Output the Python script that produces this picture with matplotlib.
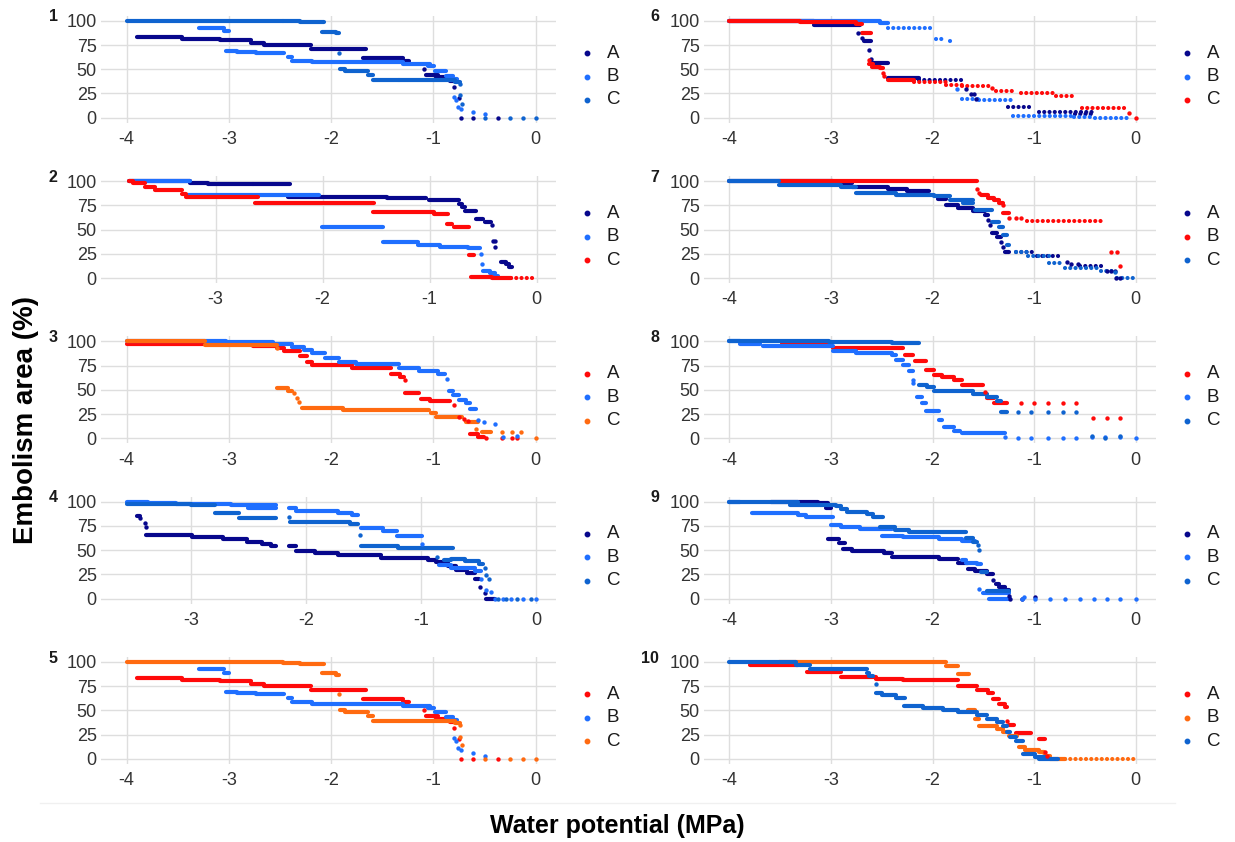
import matplotlib
matplotlib.use("Agg")
import matplotlib.pyplot as plt
from matplotlib.lines import Line2D

plt.rcParams['font.family'] = ['Liberation Sans', 'DejaVu Sans']
plt.rcParams['axes.unicode_minus'] = False

# colours
NAVY = "#07078c"
BLUE = "#1f6fff"
MBLUE = "#0f63cf"
RED = "#ff0a0a"
ORANGE = "#ff6a10"

# ---- data: (x_start, x_end, level) runs of dense points, sparse runs, single points ----
# panel 1 (same curves are shown again in panel 5)
p1_A_seg = [(-3.90, -3.46, 83), (-3.46, -3.09, 81), (-3.09, -2.78, 80), (-2.78, -2.66, 77.5),
            (-2.66, -2.20, 75), (-2.20, -1.66, 71), (-1.69, -1.30, 61.5), (-1.30, -1.24, 58.5),
            (-1.07, -0.95, 44.5), (-0.97, -0.84, 41.5), (-0.84, -0.80, 38)]
p1_A_pts = [(-1.09, 50), (-0.80, 31.5), (-0.75, 20.5), (-0.73, 0), (-0.61, 0), (-0.37, 0)]
p1_B_seg = [(-3.29, -3.05, 92.5), (-3.05, -3.0, 89), (-3.03, -2.92, 69), (-2.92, -2.73, 67.5),
            (-2.73, -2.46, 66.5), (-2.42, -2.38, 62.5), (-2.38, -2.19, 59), (-2.19, -1.30, 57),
            (-1.30, -1.03, 55), (-1.05, -0.99, 53), (-0.98, -0.88, 48.5), (-0.88, -0.81, 43.5),
            (-0.81, -0.77, 40)]
p1_B_pts = [(-0.80, 21.5), (-0.78, 18), (-0.76, 11.5), (-0.73, 9), (-0.61, 6), (-0.49, 3.5)]
p1_C_seg = [(-4.0, -2.47, 100), (-2.47, -2.30, 99.3), (-2.30, -2.07, 98.3), (-2.09, -1.95, 88.5),
            (-1.95, -1.92, 87), (-1.91, -1.86, 50.7), (-1.86, -1.64, 48.6), (-1.64, -1.59, 44),
            (-1.59, -1.34, 39.4), (-1.34, -0.79, 38.7), (-0.79, -0.74, 37)]
p1_C_pts = [(-1.92, 67), (-0.74, 35), (-0.74, 23), (-0.72, 14), (-0.49, 0), (-0.25, 0),
            (-0.12, 0), (0, 0)]

# panel 2
p2_A_seg = [(-3.81, -3.24, 100), (-3.24, -3.07, 98), (-3.07, -2.65, 97), (-2.65, -2.30, 96.5),
            (-2.32, -1.40, 83.5), (-1.40, -1.03, 82.5), (-1.01, -0.73, 80), (-0.73, -0.70, 76),
            (-0.70, -0.67, 73), (-0.67, -0.57, 69.5), (-0.57, -0.50, 60.5), (-0.48, -0.43, 58),
            (-0.33, -0.29, 17), (-0.29, -0.26, 14), (-0.26, -0.23, 11)]
p2_A_pts = [(-0.42, 54.5), (-0.41, 38.5), (-0.39, 38), (-0.39, 32)]
p2_B_seg = [(-3.77, -3.24, 100), (-3.26, -2.03, 86), (-2.01, -1.44, 53), (-1.44, -1.11, 37),
            (-1.11, -0.90, 34), (-0.90, -0.64, 32.5), (-0.64, -0.53, 30.5), (-0.50, -0.44, 7.5),
            (-0.44, -0.39, 5), (-0.39, -0.36, 2.5)]
p2_B_pts = [(-0.52, 25), (-0.51, 14)]
p2_C_seg = [(-3.81, -3.77, 100), (-3.77, -3.66, 98.3), (-3.66, -3.57, 94), (-3.57, -3.31, 90.5),
            (-3.31, -3.28, 87), (-3.28, -2.60, 84), (-2.63, -1.52, 77.5), (-1.53, -0.96, 68.5),
            (-0.96, -0.83, 66), (-0.84, -0.79, 55.5), (-0.77, -0.63, 52.5), (-0.63, -0.59, 24),
            (-0.61, -0.42, 1.4), (-0.42, -0.24, 0)]
p2_C_dot = [(-0.24, 0, 0)]

# panel 3
p3_A_seg = [(-4.0, -2.76, 97), (-2.76, -2.53, 95.5), (-2.53, -2.46, 93), (-2.46, -2.30, 89.7),
            (-2.30, -2.24, 84.5), (-2.24, -2.19, 78.6), (-2.19, -1.80, 75.2), (-1.80, -1.41, 73),
            (-1.41, -1.33, 66.2), (-1.33, -1.29, 62.8), (-1.28, -1.14, 47.2), (-1.12, -1.03, 40.7),
            (-1.03, -0.84, 38.5), (-0.64, -0.56, 4), (-0.56, -0.50, 1.7)]
p3_A_pts = [(-1.28, 60.3), (-0.80, 34.5), (-0.75, 22.4), (-0.70, 20), (-0.66, 18), (-0.48, 0),
            (-0.33, 0), (-0.23, 0), (-0.18, 0)]
p3_B_seg = [(-4.0, -3.03, 100), (-3.03, -2.57, 99), (-2.57, -2.38, 97.2), (-2.38, -2.26, 94),
            (-2.26, -2.19, 91.4), (-2.19, -2.06, 88), (-2.06, -1.92, 83), (-1.92, -1.76, 78.6),
            (-1.76, -1.34, 76.5), (-1.34, -1.14, 72.4), (-1.14, -0.95, 69.7), (-0.95, -0.89, 66.2),
            (-0.85, -0.81, 48.3), (-0.81, -0.75, 44.8), (-0.75, -0.68, 39.7), (-0.68, -0.64, 36.2),
            (-0.64, -0.58, 30.5)]
p3_B_pts = [(-0.87, 61), (-0.56, 19), (-0.50, 16.6), (-0.40, 14.5), (-0.32, 1), (-0.18, 2)]
p3_C_seg = [(-4.0, -3.23, 100), (-3.23, -2.53, 96.5), (-2.53, -2.42, 51.7), (-2.42, -2.38, 49),
            (-2.28, -1.88, 31), (-1.88, -1.04, 29.3), (-1.02, -0.97, 25.9), (-0.97, -0.72, 21.7),
            (-0.68, -0.56, 16.6), (-0.52, -0.44, 6.9)]
p3_C_pts = [(-2.53, 92.8), (-2.36, 46.5), (-2.33, 42), (-2.31, 37.9), (-0.58, 9.7), (-0.33, 6.9),
            (-0.23, 6.9), (-0.14, 6.9), (0, 0)]

# panel 4
p4_A_seg = [(-3.47, -3.44, 85), (-3.39, -2.99, 66), (-2.99, -2.72, 64), (-2.72, -2.51, 61.6),
            (-2.51, -2.38, 58.6), (-2.38, -2.30, 56.5), (-2.30, -2.26, 54), (-2.15, -2.09, 54),
            (-2.09, -1.92, 49), (-1.92, -1.72, 46.6), (-1.72, -1.35, 44.5), (-1.35, -0.94, 42),
            (-0.94, -0.87, 39.5), (-0.87, -0.77, 37.7), (-0.77, -0.70, 33.6), (-0.70, -0.60, 29.5),
            (-0.60, -0.53, 26.7), (-0.53, -0.50, 20), (-0.44, -0.36, 0)]
p4_A_pts = [(-3.44, 83), (-3.40, 78), (-3.39, 73.6), (-0.49, 12.3), (-0.45, 6)]
p4_B_seg = [(-3.55, -3.37, 100), (-3.37, -3.13, 98.6), (-3.13, -2.65, 97.6), (-2.65, -2.26, 96.2),
            (-2.50, -2.26, 93), (-2.15, -2.09, 93), (-2.09, -1.72, 90), (-1.72, -1.60, 88),
            (-1.60, -1.55, 86.3), (-1.52, -1.33, 73), (-1.33, -1.21, 69.5), (-1.21, -0.99, 65),
            (-0.85, -0.74, 35), (-0.74, -0.53, 31.8), (-0.53, -0.48, 28.4)]
p4_B_pts = [(-0.99, 56.5), (-0.48, 20.5), (-0.44, 9), (-0.39, 7), (-0.36, 0), (-0.29, 0),
            (-0.22, 0), (-0.12, 0), (0, 0)]
p4_C_seg = [(-3.55, -3.0, 98), (-3.0, -2.79, 96.6), (-2.79, -2.58, 88.4), (-2.58, -2.26, 83.6),
            (-2.14, -1.62, 79.5), (-1.62, -1.55, 77), (-1.52, -1.20, 54), (-1.20, -0.72, 52.5),
            (-0.80, -0.74, 40), (-0.74, -0.62, 41), (-0.62, -0.50, 39), (-0.50, -0.46, 36)]
p4_C_pts = [(-2.15, 84), (-1.53, 66), (-0.86, 43), (-0.45, 32), (-0.44, 24), (-0.41, 20.5),
            (-0.33, 0), (-0.26, 0), (-0.17, 0), (-0.05, 0)]

# panel 6
p6_A_seg = [(-4.0, -3.17, 100), (-3.17, -2.71, 95.5), (-2.67, -2.61, 79), (-2.60, -2.44, 56),
            (-2.44, -2.13, 40.5)]
p6_A_dot = [(-2.13, -1.71, 38.8), (-1.26, -1.01, 11.3), (-0.95, -0.41, 5.5), (-0.60, -0.41, 3.8)]
p6_A_pts = [(-2.73, 87), (-2.69, 82), (-2.63, 70), (-2.61, 61), (-1.67, 29.6), (-1.62, 24),
            (-1.59, 24), (-1.57, 19)]
p6_B_seg = [(-4.0, -2.52, 100), (-2.52, -2.44, 98)]
p6_B_dot = [(-2.44, -1.99, 93), (-1.97, -1.89, 81), (-1.83, -1.79, 79.4), (-1.71, -1.54, 19.2),
            (-1.54, -1.22, 18.2), (-1.21, -0.61, 2), (-0.61, -0.40, 1), (-0.40, -0.09, 0)]
p6_B_pts = [(-1.76, 29.2)]
p6_C_seg = [(-4.0, -3.3, 100), (-3.3, -2.75, 98.5), (-2.75, -2.69, 96.6), (-2.69, -2.61, 87),
            (-2.63, -2.59, 55), (-2.60, -2.52, 52.6), (-2.52, -2.49, 51), (-2.44, -2.18, 38.8)]
p6_C_dot = [(-2.18, -1.87, 37.1), (-1.87, -1.71, 33.7), (-1.71, -1.44, 32.6), (-1.38, -1.17, 27.8),
            (-1.13, -0.80, 25.1), (-0.78, -0.59, 22.7), (-0.53, -0.11, 10.3)]
p6_C_pts = [(-2.63, 60), (-2.49, 46.4), (-2.48, 43.3), (-1.41, 31), (-0.07, 5.2), (0, 0)]

# panel 7
p7_A_seg = [(-4.0, -2.98, 100), (-2.98, -2.79, 98.3), (-2.79, -2.44, 94), (-2.44, -2.25, 91.5),
            (-2.25, -2.03, 89.4), (-1.95, -1.87, 81), (-1.87, -1.75, 75), (-1.75, -1.60, 72.7),
            (-1.60, -1.48, 69.3), (-1.48, -1.45, 65), (-1.41, -1.37, 46), (-1.37, -1.33, 42.7),
            (-1.29, -1.25, 27.3)]
p7_A_dot = [(-1.18, -1.01, 26.6), (-0.97, -0.72, 22.9), (-0.55, -0.32, 12)]
p7_A_pts = [(-1.45, 59.7), (-1.43, 54.6), (-1.33, 37.5), (-1.31, 31.7), (-0.68, 17), (-0.64, 14.3),
            (-0.57, 14.3), (-0.28, 6.8), (-0.24, 6.8), (-0.20, 6.8), (-0.19, 0), (-0.15, 0)]
p7_B_seg = [(-3.51, -1.56, 100), (-1.52, -1.45, 85.3), (-1.45, -1.39, 82.9), (-1.39, -1.35, 80.2),
            (-1.35, -1.31, 77.5), (-1.31, -1.25, 66.6)]
p7_B_dot = [(-1.07, -0.30, 58.7)]
p7_B_pts = [(-1.56, 92.2), (-1.54, 88), (-1.31, 75), (-1.25, 61.4), (-1.18, 62), (-1.13, 62),
            (-0.24, 27.3), (-0.18, 27.3), (-0.15, 12)]
p7_C_seg = [(-4.0, -3.51, 100), (-3.51, -2.90, 95.6), (-2.90, -2.75, 94), (-2.75, -2.36, 87.7),
            (-2.36, -1.99, 86), (-1.99, -1.83, 84.3), (-1.83, -1.60, 80.9), (-1.70, -1.60, 77),
            (-1.58, -1.41, 70.6), (-1.41, -1.35, 57.3), (-1.35, -1.31, 52.9), (-1.31, -1.27, 44.4),
            (-1.27, -1.25, 34.1)]
p7_C_dot = [(-1.18, -1.06, 26.6), (-1.06, -0.84, 23.2), (-0.85, -0.72, 15.4), (-0.70, -0.35, 10.2),
            (-0.34, -0.20, 7.5), (-0.18, 0, 0)]
p7_C_pts = [(-0.20, 6.1)]

# panel 8
p8_A_seg = [(-3.48, -3.02, 97.6), (-2.98, -2.29, 93), (-2.27, -2.19, 86.2), (-2.17, -2.06, 80),
            (-2.06, -1.99, 70.7), (-1.99, -1.91, 65.5), (-1.91, -1.79, 63), (-1.79, -1.71, 60.3),
            (-1.71, -1.50, 54.5), (-1.46, -1.39, 41.4), (-1.39, -1.27, 36.9)]
p8_A_pts = [(-1.48, 48), (-1.13, 36.9), (-1.0, 36.9), (-0.86, 36.9), (-0.72, 36.9), (-0.59, 36.9),
            (-0.42, 20.7), (-0.28, 20.7), (-0.15, 20.7)]
p8_B_seg = [(-4.0, -3.90, 100), (-3.90, -3.70, 97.6), (-3.67, -2.98, 94.8), (-2.98, -2.75, 89.7),
            (-2.75, -2.40, 88), (-2.40, -2.36, 85.5), (-2.36, -2.29, 81), (-2.29, -2.23, 75.9),
            (-2.23, -2.19, 69), (-2.15, -2.10, 43), (-2.10, -2.06, 36.2), (-2.06, -1.94, 28.3),
            (-1.94, -1.91, 19), (-1.89, -1.79, 12), (-1.79, -1.73, 7.6), (-1.71, -1.29, 5.2)]
p8_B_pts = [(-2.19, 60), (-2.19, 56.9), (-1.29, 1.7), (-1.16, 0), (-1.03, 0), (-0.86, 0), (-0.72, 0),
            (-0.59, 0), (-0.43, 1.7), (-0.30, 1.7), (-0.15, 1.7), (0, 0)]
p8_C_seg = [(-4.0, -3.02, 100), (-3.02, -2.40, 99.3), (-2.40, -2.13, 98), (-2.13, -2.05, 55.2),
            (-2.05, -1.99, 53), (-1.99, -1.60, 49), (-1.60, -1.46, 45.9), (-1.46, -1.37, 43.1),
            (-1.37, -1.33, 38.6), (-1.33, -1.27, 26.9)]
p8_C_pts = [(-1.16, 26.9), (-1.03, 26.9), (-0.86, 26.9), (-0.72, 26.9), (-0.59, 26.9), (-0.43, 2.8),
            (-0.30, 0), (-0.15, 2.8)]

# panel 9
p9_A_seg = [(-3.59, -3.13, 100), (-3.13, -3.03, 98.6), (-3.05, -3.0, 93.5), (-3.03, -2.92, 61.6),
            (-2.92, -2.86, 57.5), (-2.88, -2.79, 51.4), (-2.79, -2.48, 49), (-2.48, -2.40, 46.6),
            (-2.40, -1.94, 42.8), (-1.94, -1.75, 40.4), (-1.75, -1.65, 37), (-1.65, -1.58, 30.8),
            (-1.58, -1.46, 28.4), (-1.46, -1.40, 25), (-1.38, -1.35, 15.4), (-1.35, -1.29, 12.3),
            (-1.29, -1.25, 8.6)]
p9_A_pts = [(-1.40, 19.2), (-1.25, 2.7), (-1.24, 0), (-1.12, 0), (-0.99, 2)]
p9_B_seg = [(-4.0, -3.90, 100), (-3.78, -3.32, 88.4), (-3.32, -3.25, 86.6), (-3.25, -2.98, 84.2),
            (-3.0, -2.90, 76.4), (-2.90, -2.71, 73.6), (-2.71, -2.40, 71.9), (-2.50, -2.29, 65),
            (-2.29, -1.94, 63.7), (-1.94, -1.71, 61.6), (-1.71, -1.58, 59.2), (-1.71, -1.67, 39.4),
            (-1.67, -1.56, 37), (-1.56, -1.52, 35.3), (-1.50, -1.44, 6.2), (-1.44, -1.25, 5.5),
            (-1.44, -1.24, 0)]
p9_B_pts = [(-1.54, 9.6), (-1.10, 2), (-1.12, 0), (-0.99, 0), (-0.84, 0), (-0.70, 0), (-0.55, 0),
            (-0.41, 0), (-0.28, 0), (-0.15, 0), (0, 0)]
p9_C_seg = [(-4.0, -3.32, 100), (-3.40, -2.95, 97), (-2.95, -2.90, 95.2), (-2.90, -2.84, 92.5),
            (-2.84, -2.65, 89.4), (-2.65, -2.59, 87.3), (-2.59, -2.49, 84.2), (-2.52, -2.37, 73.6),
            (-2.37, -2.23, 71.2), (-2.23, -1.67, 68.5), (-1.67, -1.60, 63), (-1.60, -1.56, 58.2),
            (-1.52, -1.46, 27.4), (-1.46, -1.25, 7.9)]
p9_C_pts = [(-1.55, 55), (-1.54, 50)]

# panel 10
p10_A_seg = [(-3.80, -3.32, 96.6), (-3.24, -2.90, 90), (-2.90, -2.56, 84.6), (-2.56, -2.29, 82.9),
             (-2.29, -1.75, 81.2), (-1.75, -1.56, 75), (-1.56, -1.45, 70.9), (-1.45, -1.40, 68.5),
             (-1.40, -1.35, 62.3), (-1.35, -1.29, 56.5), (-1.29, -1.27, 53.8), (-1.25, -1.20, 35),
             (-1.18, -1.03, 26.4), (-0.95, -0.89, 20.5)]
p10_A_pts = [(-1.27, 39.4), (-0.89, 6.8), (-0.87, 2.7)]
p10_B_seg = [(-3.51, -1.87, 100), (-1.87, -1.75, 95.9), (-1.75, -1.64, 87.3), (-1.65, -1.58, 50.3),
             (-1.58, -1.54, 41), (-1.54, -1.37, 33.6), (-1.37, -1.31, 30.8), (-1.31, -1.25, 27.4),
             (-1.25, -1.17, 24), (-1.15, -1.09, 12), (-1.09, -0.95, 9.6), (-0.95, -0.90, 6.8),
             (-0.90, -0.84, 3.4), (-0.84, -0.70, 0)]
p10_B_dot = [(-0.70, 0, 0)]
p10_C_seg = [(-4.0, -3.34, 100), (-3.34, -3.21, 97.3), (-3.21, -2.65, 93.2), (-2.65, -2.63, 89),
             (-2.63, -2.59, 85.6), (-2.56, -2.50, 68.5), (-2.50, -2.36, 66), (-2.36, -2.27, 63),
             (-2.28, -2.09, 54.1), (-2.09, -1.90, 52.4), (-1.90, -1.75, 50.7), (-1.75, -1.56, 48.6),
             (-1.56, -1.46, 45.5), (-1.46, -1.37, 41), (-1.37, -1.31, 37.7), (-1.31, -1.27, 33.6),
             (-1.27, -1.24, 28), (-1.24, -1.18, 22.3), (-1.18, -1.11, 18.8), (-1.11, -0.99, 5.1),
             (-0.99, -0.88, 1.7), (-0.95, -0.76, 0)]
p10_C_pts = [(-2.56, 77.7)]

y_ticks = [0, 25, 50, 75, 100]
full_ticks = [-4, -3, -2, -1, 0]
short_ticks = [-3, -2, -1, 0]

# panel number, column, row, xlim, xticks, series (label, colour, dense, sparse, points)
panels = [
    ("1", 0, 0, (-4.25, 0.2), full_ticks,
     [("A", NAVY, p1_A_seg, [], p1_A_pts), ("B", BLUE, p1_B_seg, [], p1_B_pts),
      ("C", MBLUE, p1_C_seg, [], p1_C_pts)]),
    ("2", 0, 1, (-4.07, 0.18), short_ticks,
     [("A", NAVY, p2_A_seg, [], p2_A_pts), ("B", BLUE, p2_B_seg, [], p2_B_pts),
      ("C", RED, p2_C_seg, p2_C_dot, [])]),
    ("3", 0, 2, (-4.25, 0.2), full_ticks,
     [("A", RED, p3_A_seg, [], p3_A_pts), ("B", BLUE, p3_B_seg, [], p3_B_pts),
      ("C", ORANGE, p3_C_seg, [], p3_C_pts)]),
    ("4", 0, 3, (-3.78, 0.17), short_ticks,
     [("A", NAVY, p4_A_seg, [], p4_A_pts), ("B", BLUE, p4_B_seg, [], p4_B_pts),
      ("C", MBLUE, p4_C_seg, [], p4_C_pts)]),
    ("5", 0, 4, (-4.25, 0.2), full_ticks,
     [("A", RED, p1_A_seg, [], p1_A_pts), ("B", BLUE, p1_B_seg, [], p1_B_pts),
      ("C", ORANGE, p1_C_seg, [], p1_C_pts)]),
    ("6", 1, 0, (-4.25, 0.2), full_ticks,
     [("A", NAVY, p6_A_seg, p6_A_dot, p6_A_pts), ("B", BLUE, p6_B_seg, p6_B_dot, p6_B_pts),
      ("C", RED, p6_C_seg, p6_C_dot, p6_C_pts)]),
    ("7", 1, 1, (-4.25, 0.2), full_ticks,
     [("A", NAVY, p7_A_seg, p7_A_dot, p7_A_pts), ("B", RED, p7_B_seg, p7_B_dot, p7_B_pts),
      ("C", MBLUE, p7_C_seg, p7_C_dot, p7_C_pts)]),
    ("8", 1, 2, (-4.25, 0.2), full_ticks,
     [("A", RED, p8_A_seg, [], p8_A_pts), ("B", BLUE, p8_B_seg, [], p8_B_pts),
      ("C", MBLUE, p8_C_seg, [], p8_C_pts)]),
    ("9", 1, 3, (-4.25, 0.2), full_ticks,
     [("A", NAVY, p9_A_seg, [], p9_A_pts), ("B", BLUE, p9_B_seg, [], p9_B_pts),
      ("C", MBLUE, p9_C_seg, [], p9_C_pts)]),
    ("10", 1, 4, (-4.25, 0.2), full_ticks,
     [("A", RED, p10_A_seg, [], p10_A_pts), ("B", ORANGE, p10_B_seg, p10_B_dot, []),
      ("C", MBLUE, p10_C_seg, [], p10_C_pts)]),
]

W, H = 1235, 842
fig = plt.figure(figsize=(W / 100, H / 100), dpi=100)

col_left = [101, 704]
col_width = [455, 452]
row_top = 15.9
row_step = 160.3
ax_h = 106.7
LW = 3.0

for num, col, row, xlim, xticks, series in panels:
    top = row_top + row * row_step
    ax = fig.add_axes([col_left[col] / W, 1 - (top + ax_h) / H, col_width[col] / W, ax_h / H])
    for s in ax.spines.values():
        s.set_visible(False)
    ax.set_xlim(*xlim)
    ax.set_ylim(-5, 105)
    ax.set_xticks(xticks)
    ax.set_yticks(y_ticks)
    ax.grid(True, color="#dedede", lw=1.0)
    ax.set_axisbelow(True)
    ax.tick_params(length=0, labelsize=13, labelcolor="#333333")
    ax.tick_params(axis="x", pad=6)
    ax.tick_params(axis="y", pad=3)

    for label, color, seg, dot, pts in series:
        for x0, x1, y in seg:
            ax.plot([x0, x1], [y, y], color=color, lw=LW, solid_capstyle="round")
        for x0, x1, y in dot:
            ax.plot([x0, x1], [y, y], color=color, lw=LW, linestyle=(0, (0.01, 1.25)),
                    dash_capstyle="round")
        if pts:
            ax.scatter([p[0] for p in pts], [p[1] for p in pts], s=10, color=color,
                       linewidths=0, zorder=3)

    # legend, drawn by hand to sit like the ggplot key
    for i, (label, color, seg, dot, pts) in enumerate(series):
        ly = 0.652 - i * 0.22
        ax.plot([1.068], [ly], "o", ms=3.2, color=color, transform=ax.transAxes, clip_on=False)
        ax.text(1.112, ly, label, transform=ax.transAxes, fontsize=13.5, color="#1a1a1a",
                va="center", ha="left")

    nx = 53 if col == 0 else (655 if num != "10" else 650)
    fig.text(nx / W, 1 - (top + 1) / H, num, fontsize=11.5, fontweight="bold", ha="center",
             va="center", color="#1a1a1a")

fig.add_artist(Line2D([40 / W, 1175 / W], [1 - 803 / H] * 2, color="#f0f0f0", lw=1))
fig.text(26 / W, 1 - 420 / H, "Embolism area (%)", rotation=90, fontsize=20, fontweight="bold",
         ha="center", va="center")
fig.text(617 / W, 1 - 826 / H, "Water potential (MPa)", fontsize=18, fontweight="bold",
         ha="center", va="center")

fig.savefig("out.png", dpi=100)
